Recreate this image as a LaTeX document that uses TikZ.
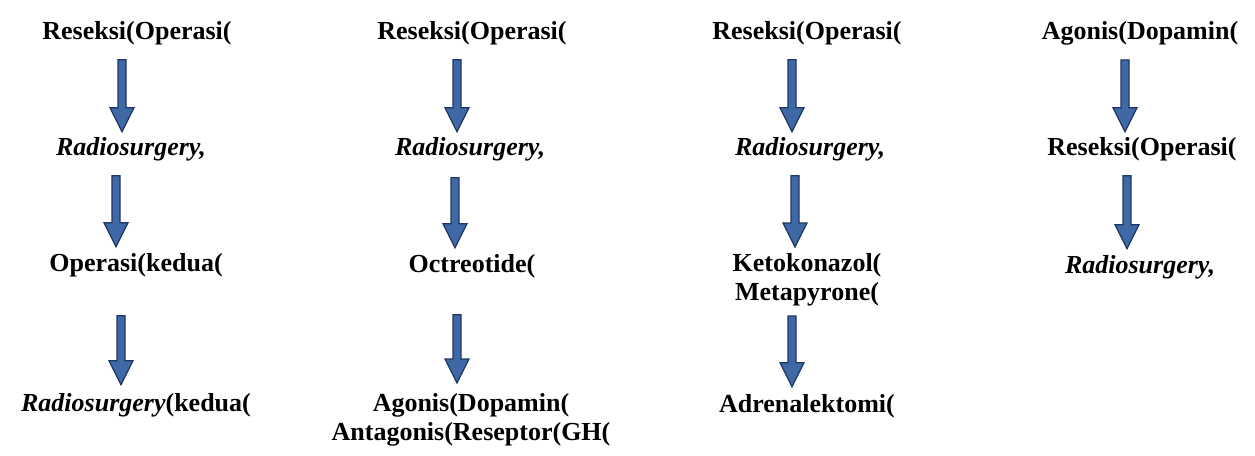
\documentclass[tikz,border=0pt]{standalone}
\usepackage{fontspec}
\setmainfont{Liberation Serif}
\usetikzlibrary{calc}

\definecolor{arrowline}{HTML}{1F3763}
\definecolor{arrowedge}{HTML}{3F68A6}
\definecolor{arrowmid}{HTML}{8FB2E4}

\tikzset{
  label/.style={inner sep=0pt, font=\fontsize{26}{29}\selectfont\bfseries, align=center},
  % block arrow: thin shaft, wide head; #1 = gap below the start node, #2 = gap above the target node
  blockarrow/.style 2 args={
    draw=arrowline, line width=1.2pt, line join=miter,
    left color=arrowedge, middle color=arrowmid, right color=arrowedge,
    to path={let \p1=(\tikztostart), \p2=(\tikztotarget) in
      (\x1-19pt,\y1-#1) -- (\x1-11pt,\y1-#1) -- (\x1-11pt,\y2+#2+24pt)
      -- (\x1-3pt,\y2+#2+24pt) -- (\x1-15pt,\y2+#2) -- (\x1-27pt,\y2+#2+24pt)
      -- (\x1-19pt,\y2+#2+24pt) -- cycle}
  },
}

\begin{document}
\begin{tikzpicture}[x=1pt,y=-1pt]
\useasboundingbox (0,0) rectangle (1255,455);

% first column
\node[label, anchor=base] (c1a) at (137,39) {Reseksi(Operasi(};
\node[label, anchor=base] (c1b) at (131,155) {\itshape Radiosurgery,};
\node[label, anchor=base] (c1c) at (136,271) {Operasi(kedua(};
\node[label, anchor=base] (c1d) at (136,411) {\itshape Radiosurgery\upshape(kedua(};

% second column
\node[label, anchor=base] (c2a) at (472,39) {Reseksi(Operasi(};
\node[label, anchor=base] (c2b) at (470,155) {\itshape Radiosurgery,};
\node[label, anchor=base] (c2c) at (472,272) {Octreotide(};
\node[label, anchor=north] (c2d) at (471,393) {Agonis(Dopamin(\\Antagonis(Reseptor(GH(};

% third column
\node[label, anchor=base] (c3a) at (807,39) {Reseksi(Operasi(};
\node[label, anchor=base] (c3b) at (810,155) {\itshape Radiosurgery,};
\node[label, anchor=north] (c3c) at (807,253) {Ketokonazol(\\Metapyrone(};
\node[label, anchor=base] (c3d) at (807,412) {Adrenalektomi(};

% fourth column
\node[label, anchor=base] (c4a) at (1140,39) {Agonis(Dopamin(};
\node[label, anchor=base] (c4b) at (1142,155) {Reseksi(Operasi(};
\node[label, anchor=base] (c4c) at (1140,273) {\itshape Radiosurgery,};

% arrows
\draw[blockarrow={15pt}{5pt}] (c1a.south) to (c1b.north);
\draw[blockarrow={15pt}{6pt}] (c1b.south) to (c1c.north);
\draw[blockarrow={39pt}{8pt}] (c1c.south) to (c1d.north);

\draw[blockarrow={15pt}{5pt}] (c2a.south) to (c2b.north);
\draw[blockarrow={17pt}{6pt}] (c2b.south) to (c2c.north);
\draw[blockarrow={37pt}{10pt}] (c2c.south) to (c2d.north);

\draw[blockarrow={15pt}{5pt}] (c3a.south) to (c3b.north);
\draw[blockarrow={15pt}{6pt}] (c3b.south) to (c3c.north);
\draw[blockarrow={10pt}{7pt}] (c3c.south) to (c3d.north);

\draw[blockarrow={15pt}{5pt}] (c4a.south) to (c4b.north);
\draw[blockarrow={15pt}{6pt}] (c4b.south) to (c4c.north);
\end{tikzpicture}
\end{document}
